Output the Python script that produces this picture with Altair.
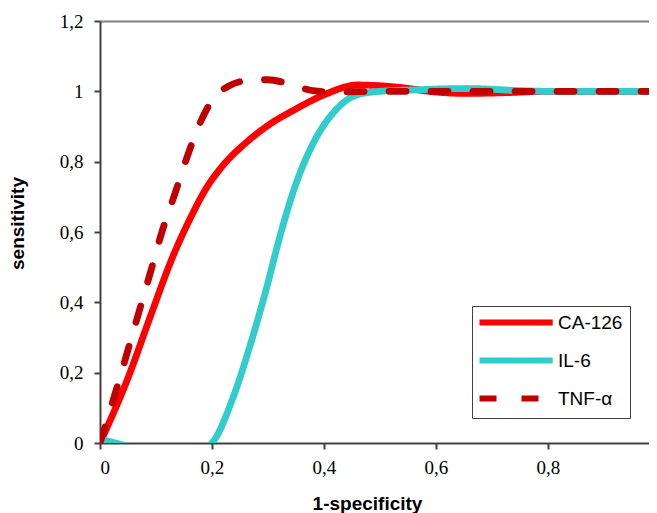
import altair as alt
import pandas as pd

# ---- data ----
series_names = ["CA-126", "IL-6", "TNF-α"]
series_colors = ["#FF0000", "#33CCCC", "#C00000"]

ca126_x = [0, 0.05, 0.09, 0.13, 0.16, 0.19, 0.22, 0.26, 0.3, 0.35, 0.4, 0.46, 0.53, 0.6, 0.655, 0.72, 0.8, 1.0]
ca126_y = [0, 0.185, 0.36, 0.53, 0.635, 0.725, 0.79, 0.853, 0.903, 0.95, 0.99, 1.018, 1.012, 0.998, 0.994, 0.996, 1.0, 1.0]

il6_x = [0, 0.04, 0.1, 0.16, 0.2, 0.238, 0.271, 0.298, 0.321, 0.348, 0.381, 0.416, 0.459, 0.5, 0.56, 0.655, 0.75, 0.8, 1.0]
il6_y = [0.01, -0.005, -0.04, -0.035, 0, 0.131, 0.293, 0.444, 0.586, 0.728, 0.853, 0.938, 0.99, 1.0, 1.004, 1.008, 1.002, 1.0, 1.0]

tnf_x = [0, 0.025, 0.05, 0.07, 0.09, 0.11, 0.134, 0.157, 0.18, 0.205, 0.23, 0.26, 0.3, 0.34, 0.38, 0.42, 0.5, 1.0]
tnf_y = [0, 0.13, 0.265, 0.375, 0.485, 0.597, 0.71, 0.82, 0.915, 0.985, 1.015, 1.03, 1.033, 1.02, 1.002, 0.998, 1.0, 1.0]

y_ticks = [0, 0.2, 0.4, 0.6, 0.8, 1.0, 1.2]
x_ticks = [0, 0.2, 0.4, 0.6, 0.8]

rows = []
for name, xs, ys in [("CA-126", ca126_x, ca126_y), ("IL-6", il6_x, il6_y), ("TNF-α", tnf_x, tnf_y)]:
    for xv, yv in zip(xs, ys):
        rows.append({"series": name, "x": xv, "y": yv})
df = pd.DataFrame(rows)

label_expr = "replace(format(datum.value, '~g'), '.', ',')"

xscale = alt.Scale(domain=[0, 0.9804], nice=False, zero=False)
yscale = alt.Scale(domain=[0, 1.2], nice=False)

lines = alt.Chart(df).mark_line(
    clip=True, strokeWidth=6.8, strokeCap="round", strokeJoin="round", interpolate="monotone"
).encode(
    x=alt.X("x:Q", scale=xscale,
            axis=alt.Axis(values=x_ticks, labelExpr=label_expr, title="1-specificity",
                          titleX=267, titleY=66, titleBaseline="alphabetic")),
    y=alt.Y("y:Q", scale=yscale,
            axis=alt.Axis(values=y_ticks, labelExpr=label_expr, title="sensitivity",
                          titleX=-73, titleY=202)),
    color=alt.Color("series:N", scale=alt.Scale(domain=series_names, range=series_colors),
                    sort=series_names,
                    legend=alt.Legend(title=None, orient="none", legendX=372, legendY=285,
                                      symbolType="M-1.5,0H10.7", symbolSize=144, symbolStrokeWidth=6,
                                      labelFont="Liberation Sans", labelFontSize=19, labelColor="#000000",
                                      labelOffset=60, padding=7, rowPadding=13,
                                      strokeColor="#404040", fillColor="#FFFFFF")),
    strokeDash=alt.StrokeDash("series:N",
                              scale=alt.Scale(domain=series_names, range=[[1, 0], [1, 0], [17, 25]]),
                              sort=series_names, legend=None),
    detail="series:N",
)

top_border = alt.Chart(df).mark_line(opacity=0).encode(
    x=alt.X("x:Q", scale=xscale,
            axis=alt.Axis(orient="top", labels=False, ticks=False, title=None,
                          domainColor="#808080", domainWidth=2))
)

chart = alt.layer(top_border, lines).resolve_axis(x="independent").properties(
    width=549, height=422,
    autosize=alt.AutoSizeParams(type="none"),
    padding={"left": 92, "top": 13, "right": 0, "bottom": 70},
).configure_view(stroke=None).configure_axis(
    grid=False,
    domainColor="#404040", domainWidth=2,
    tickColor="#404040", tickWidth=2, tickSize=6,
    labelFont="Liberation Serif", labelFontSize=19, labelColor="#000000",
    labelPadding=9,
    titleFont="Liberation Sans", titleFontSize=19, titleFontWeight="bold", titleColor="#000000",
).configure_axisY(labelPadding=11)

chart.save("out.html", embed_options={"renderer": "svg", "actions": False})
